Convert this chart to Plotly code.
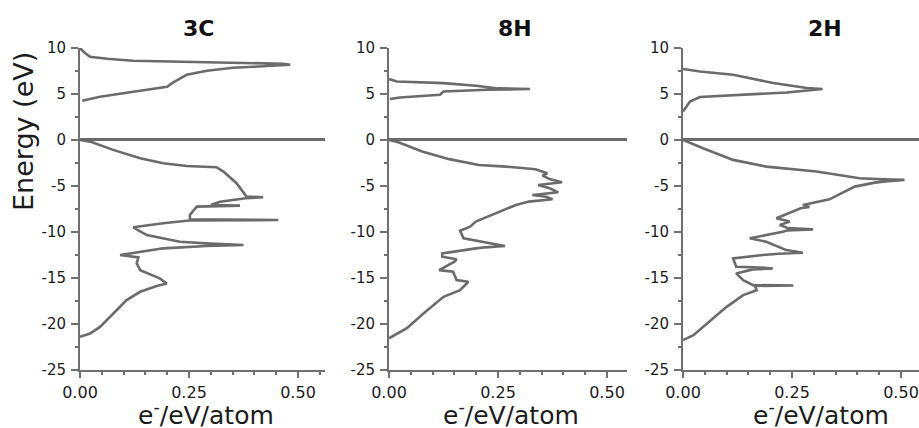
import plotly.graph_objects as go

# ---------------- data ----------------
panel_titles = ["3C", "8H", "2H"]
x_axis_label = "e<sup>-</sup>/eV/atom"
y_axis_label = "Energy (eV)"

y_tick_vals = [10, 5, 0, -5, -10, -15, -20, -25]
y_tick_text = ["10", "5", "0", "-5", "-10", "-15", "-20", "-25"]
x_tick_vals = [0.0, 0.25, 0.5]
x_tick_text = ["0.00", "0.25", "0.50"]

# 3C
c3_cond_E = [4.25, 4.69, 5.23, 5.78, 6.22, 7.09, 7.52, 7.85, 7.96, 8.18, 8.29, 8.40, 8.50, 8.61, 8.83, 9.05, 9.5, 10.0]
c3_cond_D = [0.005, 0.046, 0.122, 0.200, 0.213, 0.245, 0.291, 0.351, 0.397, 0.482, 0.466, 0.351, 0.236, 0.121, 0.062, 0.023, 0.010, 0.0]
c3_val_E = [0, -0.19, -1.09, -2.0, -2.54, -2.84, -2.98, -3.46, -4.72, -5.5, -6.18, -6.25, -6.35, -6.73, -7.1, -7.16, -7.22,
            -7.27, -8.18, -8.65, -8.72, -8.78, -9.08, -9.52, -10.36, -11.09, -11.3, -11.45, -11.56, -11.81, -12.54, -12.79,
            -13.45, -14.18, -15.08, -15.63, -15.92, -16.54, -17.45, -18.9, -20.36, -21.08, -21.45]
c3_val_D = [0.0, 0.023, 0.076, 0.138, 0.191, 0.245, 0.313, 0.329, 0.359, 0.372, 0.382, 0.42, 0.38, 0.321, 0.30, 0.367, 0.29,
            0.268, 0.252, 0.252, 0.455, 0.25, 0.191, 0.122, 0.153, 0.229, 0.30, 0.375, 0.29, 0.191, 0.092, 0.134,
            0.13, 0.138, 0.183, 0.199, 0.176, 0.138, 0.107, 0.076, 0.046, 0.023, 0.0]

# 8H
h8_cond_E = [4.44, 4.61, 4.91, 5.27, 5.45, 5.53, 5.6, 5.89, 6.18, 6.36, 6.62]
h8_cond_D = [0.002, 0.025, 0.117, 0.125, 0.224, 0.323, 0.25, 0.2, 0.125, 0.018, 0.0]
h8_val_E = [0, -0.29, -1.27, -2.1, -2.73, -2.91, -3.2, -3.64, -3.89, -4.3, -4.62, -4.91, -5.3, -5.71, -6.0, -6.2, -6.47,
            -6.72, -7.09, -7.82, -8.9, -9.45, -9.9, -10.72, -11.09, -11.4, -11.56, -11.7, -11.81, -12.36, -12.72, -13.0,
            -13.27, -14.18, -14.36, -15.27, -15.45, -16.36, -17.09, -18.9, -20.5, -21.6]
h8_val_D = [0.0, 0.023, 0.076, 0.138, 0.206, 0.268, 0.336, 0.363, 0.352, 0.37, 0.397, 0.342, 0.37, 0.388, 0.329, 0.36, 0.375,
            0.321, 0.291, 0.252, 0.199, 0.186, 0.163, 0.171, 0.212, 0.24, 0.266, 0.22, 0.2, 0.122, 0.122, 0.155,
            0.15, 0.115, 0.147, 0.155, 0.182, 0.163, 0.125, 0.079, 0.041, 0.0]

# 2H
h2_cond_E = [3.09, 4.18, 4.66, 4.91, 5.16, 5.53, 5.64, 6.18, 7.09, 7.45, 7.71]
h2_cond_D = [0.0, 0.016, 0.039, 0.154, 0.238, 0.32, 0.284, 0.207, 0.115, 0.039, 0.0]
h2_val_E = [0, -0.91, -2.18, -2.91, -3.45, -4.18, -4.3, -4.36, -4.5, -4.66, -5.09, -6.47, -7.09, -7.3, -7.45, -7.82, -8.54,
            -8.9, -9.27, -9.6, -9.74, -9.85, -10.0, -10.72, -11.09, -12.0, -12.29, -12.4, -12.54, -12.9, -13.82, -13.89,
            -14.0, -14.1, -14.54, -15.27, -15.81, -15.85, -15.9, -16.36, -16.9, -18.18, -20.0, -21.27, -21.8]
h2_val_D = [0.0, 0.046, 0.115, 0.191, 0.306, 0.405, 0.46, 0.508, 0.47, 0.44, 0.394, 0.336, 0.275, 0.29, 0.27, 0.252, 0.214,
            0.245, 0.222, 0.24, 0.298, 0.24, 0.229, 0.153, 0.191, 0.237, 0.275, 0.22, 0.183, 0.115, 0.122, 0.176,
            0.206, 0.16, 0.122, 0.138, 0.161, 0.253, 0.165, 0.169, 0.138, 0.1, 0.054, 0.024, 0.0]

panels = [
    (c3_cond_E, c3_cond_D, c3_val_E, c3_val_D),
    (h8_cond_E, h8_cond_D, h8_val_E, h8_val_D),
    (h2_cond_E, h2_cond_D, h2_val_E, h2_val_D),
]

# ---------------- layout geometry ----------------
W, H = 919, 428
x_px = [(80, 325), (389, 627), (683, 919)]
px_per_unit = 436.0
y_top_px, y_bot_px = 48, 369.5
title_x_px = [198, 515, 825]
xlab_x_px = [206, 511, 821]

LINE = "#6b6b6b"
AXIS = "#707070"
TXT = "#1c1c1c"
FONT = "DejaVu Sans"

fig = go.Figure()
layout = dict(
    width=W, height=H, margin=dict(l=0, r=0, t=0, b=0, autoexpand=False),
    paper_bgcolor="white", plot_bgcolor="white", showlegend=False,
    font=dict(family=FONT, color=TXT),
)
annotations = []
for i, (cE, cD, vE, vD) in enumerate(panels):
    n = "" if i == 0 else str(i + 1)
    for E, D in ((cE, cD), (vE, vD)):
        fig.add_trace(go.Scatter(x=D, y=E, mode="lines", xaxis="x" + n, yaxis="y" + n,
                                 line=dict(color=LINE, width=2.6), hoverinfo="skip", cliponaxis=False))
    x0, x1 = x_px[i]
    layout["xaxis" + n] = dict(
        domain=[x0 / W, x1 / W], range=[0, (x1 - x0) / px_per_unit], anchor="y" + n, automargin=False,
        showgrid=False, zeroline=False, showline=True, linecolor=AXIS, linewidth=2,
        tickmode="array", tickvals=x_tick_vals, ticktext=x_tick_text,
        ticks="outside", ticklen=6, tickwidth=2, tickcolor=AXIS,
        tickfont=dict(size=16, family=FONT, color=TXT), ticklabelstandoff=1,
        minor=dict(dtick=0.05, tick0=0, ticks="outside", ticklen=3, tickwidth=2, tickcolor=AXIS),
    )
    layout["yaxis" + n] = dict(
        domain=[1 - y_bot_px / H, 1 - y_top_px / H], range=[-25, 10], anchor="x" + n, automargin=False,
        showgrid=False, zeroline=True, zerolinecolor=LINE, zerolinewidth=2.5,
        showline=True, linecolor=AXIS, linewidth=2,
        tickmode="array", tickvals=y_tick_vals, ticktext=y_tick_text,
        ticks="outside", ticklen=7, tickwidth=2, tickcolor=AXIS,
        tickfont=dict(size=15, family=FONT, color=TXT), ticklabelstandoff=2,
        minor=dict(dtick=2.5, tick0=0, ticks="outside", ticklen=3, tickwidth=2, tickcolor=AXIS),
    )
    annotations.append(dict(text="<b>%s</b>" % panel_titles[i], x=title_x_px[i] / W, y=1 - 28 / H,
                            xref="paper", yref="paper", showarrow=False, xanchor="center", yanchor="middle",
                            font=dict(size=22, family=FONT, color="#111")))
    annotations.append(dict(text=x_axis_label, x=xlab_x_px[i] / W, y=1 - 413 / H,
                            xref="paper", yref="paper", showarrow=False, xanchor="center", yanchor="middle",
                            font=dict(size=25, family=FONT, color=TXT)))

annotations.append(dict(text=y_axis_label, x=24 / W, y=1 - 132 / H, xref="paper", yref="paper",
                        showarrow=False, textangle=-90, xanchor="center", yanchor="middle",
                        font=dict(size=27, family=FONT, color=TXT)))
layout["annotations"] = annotations
fig.update_layout(**layout)
fig.write_html("out.html", config={"displayModeBar": False},
               post_script="document.body.style.margin='0';document.body.style.overflow='hidden';")
